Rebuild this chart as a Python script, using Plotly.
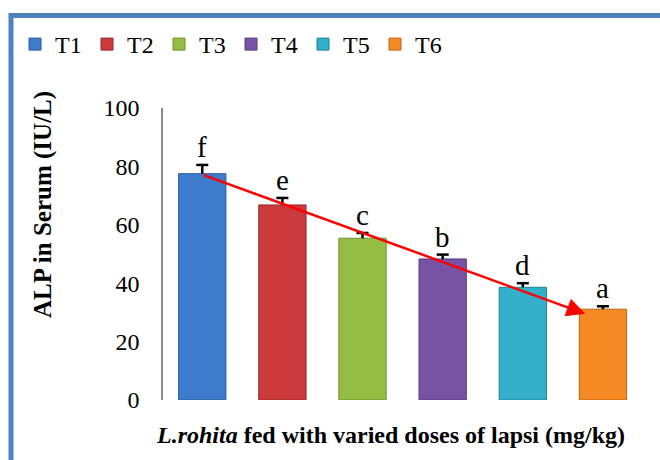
import plotly.graph_objects as go

# Serum ALP by treatment group
groups = ["T1", "T2", "T3", "T4", "T5", "T6"]
alp = [77.5, 66.8, 55.4, 48.3, 38.6, 31.1]
err = [3.0, 2.4, 1.8, 1.5, 1.4, 1.0]
letters = ["f", "e", "c", "b", "d", "a"]
colors = ["#3d7ccc", "#cc3a3c", "#96bd43", "#7853a5", "#33aecb", "#f58a25"]
edges = ["#2a5a98", "#962628", "#6f8f2c", "#563a7c", "#23809a", "#bd6412"]

W, H = 660, 460
L, R, T, B = 163, 17, 108, 60
pw, ph = W - L - R, H - T - B
SERIF = "Liberation Serif"
CAP = 0.075  # half width of the error-bar caps, in category units


def px_x(p):
    return (p - L) / pw


def px_y(p):
    return (H - B - p) / ph


n = len(groups)
pos = list(range(n))

fig = go.Figure()
for i, g, v, c, ec in zip(pos, groups, alp, colors, edges):
    fig.add_trace(go.Bar(
        x=[i], y=[v], name=g, width=0.59,
        marker=dict(color=c, line=dict(color=ec, width=1)),
    ))

# upper-only error bars (stem from bar top plus a cap)
ex, ey = [], []
for i, v, e in zip(pos, alp, err):
    ex += [i, i, None, i - CAP, i + CAP, None]
    ey += [v, v + e, None, v + e, v + e, None]
fig.add_trace(go.Scatter(x=ex, y=ey, mode="lines", showlegend=False, hoverinfo="skip",
                         line=dict(color="black", width=2.5)))

# significance letters above the error caps
for i, v, e, s in zip(pos, alp, err, letters):
    fig.add_annotation(x=i, y=v + e, text=s, showarrow=False, yanchor="bottom",
                       yshift=0, font=dict(family=SERIF, size=29, color="black"))

# declining trend arrow from T1 to T6
fig.add_annotation(x=n - 1 - 0.22, y=alp[-1] - 1.6, ax=0, ay=alp[0] - 0.3,
                   xref="x", yref="y", axref="x", ayref="y", text="",
                   showarrow=True, arrowhead=2, arrowsize=1.5, arrowwidth=2.5,
                   arrowcolor="#ff0000", standoff=0)

# axis titles
fig.add_annotation(xref="paper", yref="paper", x=px_x(43), y=px_y(205),
                   xanchor="center", yanchor="middle",
                   text="<b>ALP in Serum (IU/L)</b>", textangle=-90, showarrow=False,
                   font=dict(family=SERIF, size=25, color="black"))
fig.add_annotation(xref="paper", yref="paper", x=px_x(390), y=px_y(435),
                   xanchor="center", yanchor="middle",
                   text="<b><i>L.rohita</i> fed with varied doses of lapsi (mg/kg)</b>",
                   showarrow=False,
                   font=dict(family=SERIF, size=24, color="black"))

# chart frame
fig.add_shape(type="rect", xref="paper", yref="paper",
              x0=px_x(11), x1=px_x(720), y0=px_y(520), y1=px_y(15.5),
              line=dict(color="#4f81bd", width=5), fillcolor="rgba(0,0,0,0)")

fig.update_layout(
    width=W, height=H, autosize=False,
    margin=dict(l=L, r=R, t=T, b=B, pad=0),
    paper_bgcolor="white", plot_bgcolor="white",
    barmode="overlay",
    showlegend=True,
    legend=dict(orientation="h", x=px_x(15), y=px_y(22), xanchor="left", yanchor="top",
                font=dict(family=SERIF, size=24, color="black"),
                entrywidth=27, entrywidthmode="pixels",
                bgcolor="rgba(0,0,0,0)", itemclick=False),
    xaxis=dict(showticklabels=False, showline=False, showgrid=False, zeroline=False,
               ticks="", range=[-0.49, n - 0.5]),
    yaxis=dict(range=[0, 100], tickvals=[0, 20, 40, 60, 80, 100], showgrid=False,
               zeroline=False, showline=True, linecolor="#8c8c8c", linewidth=1.5,
               ticks="", ticklabelstandoff=17,
               tickfont=dict(family=SERIF, size=24, color="black")),
)

fig.write_html("out.html")
